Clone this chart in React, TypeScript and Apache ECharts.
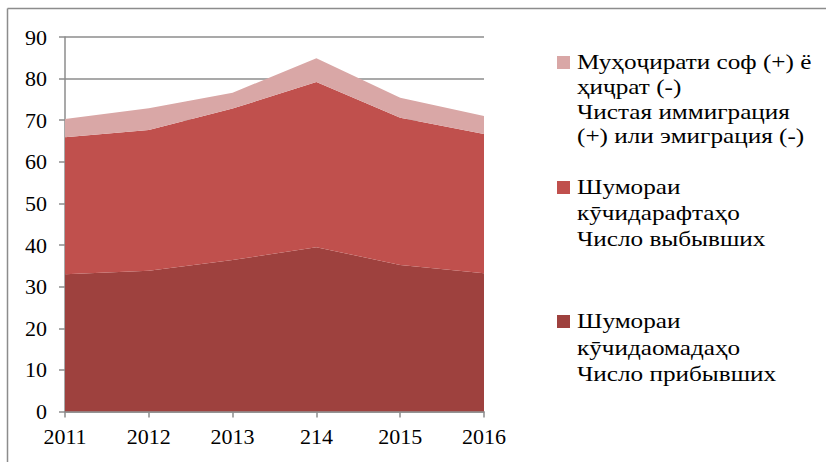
import React, { useEffect, useRef } from "react";
import * as echarts from "echarts";

const categories = ["2011", "2012", "2013", "214", "2015", "2016"];
const arrivals = [33.0, 33.8, 36.4, 39.5, 35.2, 33.2];
const departures = [32.9, 33.85, 36.4, 39.7, 35.4, 33.5];
const netMigration = [4.4, 5.25, 3.8, 5.7, 4.8, 4.3];

const legendTexts = [
  "Муҳоҷирати соф (+) ё\nҳиҷрат (-)\nЧистая иммиграция\n(+) или эмиграция (-)",
  "Шумораи\nкӯчидарафтаҳо\nЧисло выбывших",
  "Шумораи\nкӯчидаомадаҳо\nЧисло прибывших",
];

const colors = {
  arrivals: "#9E413E",
  departures: "#C0504D",
  net: "#D9A7A6",
};

const FONT = "Liberation Serif";

export default function App() {
  const ref = useRef<HTMLDivElement>(null);
  useEffect(() => {
    if (!ref.current) return;
    const chart = echarts.init(ref.current, null, { renderer: "svg" });
    const legendColors = [colors.net, colors.departures, colors.arrivals];
    const legendMarkerY = [56, 181, 315];
    const legendLineHeights = [24.8, 26, 26.5];
    const graphics: any[] = [
      { type: "line", shape: { x1: 7.5, y1: 8.5, x2: 826, y2: 8.5 }, style: { stroke: "#8c8c8c", lineWidth: 1.5 }, silent: true },
      { type: "line", shape: { x1: 7.5, y1: 8.5, x2: 7.5, y2: 462 }, style: { stroke: "#8c8c8c", lineWidth: 1.5 }, silent: true },
    ];
    legendTexts.forEach((t, i) => {
      graphics.push({
        type: "rect",
        shape: { x: 557, y: legendMarkerY[i], width: 13, height: 13 },
        style: { fill: legendColors[i] },
        silent: true,
      });
      graphics.push({
        type: "text",
        x: 577,
        y: legendMarkerY[i] + 6.5 - legendLineHeights[i] / 2,
        scaleX: 1.26,
        style: {
          text: t,
          fill: "#000",
          fontFamily: FONT,
          fontSize: 20,
          lineHeight: legendLineHeights[i],
          verticalAlign: "top",
          align: "left",
        },
        silent: true,
      });
    });

    const areaSeries = (name: string, data: number[], color: string) => ({
      name,
      type: "line",
      stack: "total",
      data,
      symbol: "none",
      lineStyle: { width: 0 },
      itemStyle: { color },
      areaStyle: { color, opacity: 1 },
      emphasis: { disabled: true },
    });

    chart.setOption({
      animation: false,
      textStyle: { fontFamily: FONT },
      grid: { left: 65, right: 342, top: 37, bottom: 50.5, containLabel: false },
      xAxis: {
        type: "category",
        data: categories,
        boundaryGap: false,
        axisLine: { lineStyle: { color: "#8c8c8c", width: 1.5 } },
        axisTick: { show: true, length: 6, lineStyle: { color: "#8c8c8c", width: 1.5 } },
        axisLabel: { color: "#000", fontSize: 22, fontFamily: FONT, margin: 14 },
        splitLine: { show: false },
      },
      yAxis: {
        type: "value",
        min: 0,
        max: 90,
        interval: 10,
        axisLine: { show: true, lineStyle: { color: "#8c8c8c", width: 1.5 } },
        axisTick: { show: true, length: 6, lineStyle: { color: "#8c8c8c", width: 1.5 } },
        axisLabel: { color: "#000", fontSize: 22, fontFamily: FONT, margin: 18 },
        splitLine: { show: true, lineStyle: { color: "#8c8c8c", width: 1.5 } },
      },
      series: [
        areaSeries("Шумораи кӯчидаомадаҳо Число прибывших", arrivals, colors.arrivals),
        areaSeries("Шумораи кӯчидарафтаҳо Число выбывших", departures, colors.departures),
        areaSeries("Муҳоҷирати соф (+) ё ҳиҷрат (-) Чистая иммиграция (+) или эмиграция (-)", netMigration, colors.net),
      ],
      graphic: graphics,
    });
    return () => chart.dispose();
  }, []);
  return (
    <div
      ref={ref}
      style={{ position: "absolute", left: 0, top: 0, width: 826, height: 462, background: "#fff" }}
    />
  );
}
